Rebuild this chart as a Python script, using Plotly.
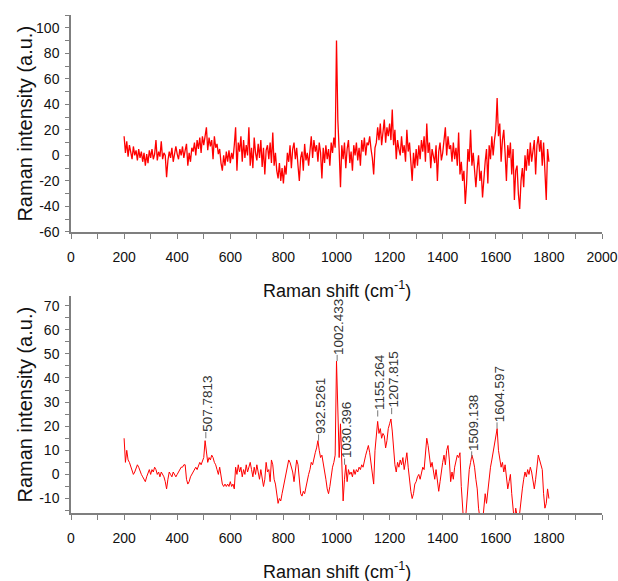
import plotly.graph_objects as go

# Raman shift grid (cm-1), sampled every 5 cm-1
shift = list(range(200, 1801, 5))

# Raw spectrum (top panel)
raw_intensity = (
    [15, 2, 11, -1, 8, 3, -3, 7, 0, 4, -4, 5, -2, 3, -5, 2, -8, 1, -6, 4]
    + [-2, 5, -3, 1, 12, -4, 3, -1, 11, -3, 2, 0, -17, -4, 3, -2, 6, -5, 2, 7]
    + [1, -3, 5, 0, 7, -2, 4, 9, -8, 2, -5, 6, 3, 10, 0, 12, 5, 14, 2, 15]
    + [8, 16, 22, 4, 14, 7, 12, -3, 15, 6, 9, 1, 5, -6, -12, 0, -8, 3, -5, 4]
    + [-6, 2, -3, 8, 22, -12, 10, 3, 15, -5, 12, -2, 8, 0, 22, -8, 6, -10, 14, 2]
    + [-4, 9, -2, 12, -9, 6, -15, 4, 8, -3, 10, -6, 18, -8, 2, -12, -18, -6, -20, -10]
    + [-22, -8, -15, 2, -5, 8, -10, 5, 10, -3, 6, -8, -20, -2, 3, -12, 9, -4, 2, -8]
    + [5, 15, -2, 12, 3, 8, -5, 10, 2, -18, 6, -6, 8, -3, 5, -8, 10, 2, 14, 6]
    + [90, 28, 4, -25, 8, -3, 10, -10, 5, 12, -6, 3, -12, 8, 0, 10, -4, 6, -8, 12]
    + [3, 14, 0, 10, 8, 15, 5, -2, -15, 6, 10, 22, 12, 25, 8, 18, 28, 10, 22, 15]
    + [25, 12, 36, 8, 20, -3, 12, 5, 0, 15, 2, 8, -5, 20, 3, 10, -8, -20, 2, -10]
    + [5, -8, 8, -3, 12, 3, 15, -5, 25, 2, 10, -10, 5, 0, -6, 8, -20, 3, 10, -4]
    + [2, 12, 22, 0, 15, 5, 8, -5, 10, -3, 6, -8, 18, -15, -5, -20, -12, -38, -22, 5]
    + [-5, 20, -8, 2, -15, -25, -10, 0, -20, -12, -33, -15, -5, 5, -22, 8, -3, 15, 0, 12]
    + [20, 45, 15, 25, -5, 12, 20, 2, -20, 8, -2, 10, -15, 5, -35, -12, -8, -30, -42, -20]
    + [-10, -25, 0, -12, 5, -8, 10, -5, 2, 12, -15, 8, 15, 3, 12, -8, 10, -20, -35, 5]
    + [-5]
)

# Smoothed spectrum (bottom panel)
smooth_intensity = (
    [15, 5, 10, 6, 5, 3, 1, 0, 1, 3, 4, 3, 1, 0, -1, -2, -3, -1, 1, 2]
    + [0, 2, 1, 3, 2, 0, 1, -1, 1, 0, -1, -3, -6, -2, 1, 0, -1, 1, 0, -1]
    + [0, 1, 2, 3, 3, 4, 4, -2, -4, -3, -1, 0, 1, 2, 3, 2, 4, 5, 4, 6]
    + [7, 14, 9, 5, 7, 6, 8, 7, 5, 4, 2, 0, 3, -1, -4, -5, -4, -5, -4, -5]
    + [-3, -5, -4, -6, 3, 0, 4, 1, 3, -1, 2, 0, 4, 1, 3, 5, 2, -1, 3, 0]
    + [4, 1, -2, 2, -1, -5, -2, 5, 1, 2, -3, 6, 4, -2, -4, -8, -12, -10, -11, -8]
    + [-5, -3, 0, 3, 6, 5, 3, 1, -3, 2, 6, 4, -3, -8, -9, -7, -8, -5, -3, 0]
    + [2, 5, 4, 7, 9, 11, 14, 10, 7, 8, 5, 2, -2, -6, -8, -5, 0, 3, 5, 8]
    + [47, 20, 7, 21, 6, -11, -2, 4, -3, 2, 0, 1, -1, 2, 0, 2, 1, 3, 2, 4]
    + [3, 6, 8, 10, 12, 9, 5, 2, -4, 10, 18, 22, 17, 19, 15, 17, 16, 11, 14, 19]
    + [21, 23, 18, 10, 4, 1, 5, 3, 6, 4, 7, 2, 5, 9, 3, -3, -7, -10, -8, -4]
    + [-3, -1, 0, -2, 1, 3, 2, 8, 15, 12, 6, 3, 5, 1, -2, 2, -4, -7, -3, 2]
    + [5, 8, 4, 10, 12, 6, -3, 1, -2, 3, 6, 8, 7, 9, -5, -14, -22, -20, -12, -4]
    + [2, 5, 8, 6, 3, -2, -6, -14, -20, -22, -20, -14, -8, -12, -6, -1, 3, 6, 9, 12]
    + [15, 19, 10, 6, 3, 5, 1, 4, -2, -6, -3, 0, -8, -18, -20, -14, -18, -20, -16, -10]
    + [-6, -2, 1, -1, 2, 0, 3, 1, -3, -6, -2, 3, 8, 6, 4, 2, -8, -14, -12, -6]
    + [-10]
)

# Peak labels (bottom panel)
peak_shift = [507.7813, 932.5261, 1002.433, 1030.396, 1155.264, 1207.815, 1509.138, 1604.597]
peak_labels = ["507.7813", "932.5261", "1002.433", "1030.396", "1155.264", "1207.815", "1509.138", "1604.597"]
peak_height = [15, 14, 47, 4, 24, 25, 7, 19]

top_xticks = list(range(0, 2001, 200))
bottom_xticks = list(range(0, 1801, 200))
top_yticks = list(range(-60, 101, 20))
bottom_yticks = list(range(-10, 71, 10))

RED = "#ff0000"
AXIS = "#7f7f7f"
FONT = "Liberation Sans, Arial"
TICKFONT = dict(family=FONT, size=14, color="#111111")
TITLEFONT_H = dict(family=FONT, size=18, color="#111111")
TITLEFONT_V = dict(family=FONT, size=20, color="#111111")
LEADER_LEN = 2.6  # leader length in intensity units

fig = go.Figure()
fig.add_trace(go.Scatter(x=shift, y=raw_intensity, mode="lines",
                         line=dict(color=RED, width=1.3), xaxis="x", yaxis="y",
                         showlegend=False, hoverinfo="skip"))
fig.add_trace(go.Scatter(x=shift, y=smooth_intensity, mode="lines",
                         line=dict(color=RED, width=1), xaxis="x2", yaxis="y2",
                         showlegend=False, hoverinfo="skip"))

# short grey leader lines from each labelled peak up to its label
lead_x, lead_y = [], []
for px, ph in zip(peak_shift, peak_height):
    lead_x += [px, px, None]
    lead_y += [ph, ph + LEADER_LEN, None]
fig.add_trace(go.Scatter(x=lead_x, y=lead_y, mode="lines",
                         line=dict(color="#777777", width=1), xaxis="x2", yaxis="y2",
                         showlegend=False, hoverinfo="skip"))

common_x = dict(showline=True, linecolor=AXIS, linewidth=1.5, ticks="outside", ticklen=5,
                tickcolor=AXIS, tickwidth=1.2, showgrid=False, zeroline=False,
                tickfont=TICKFONT, ticklabelstandoff=6, automargin=False,
                minor=dict(ticks="outside", ticklen=5, tickcolor=AXIS, tickwidth=1.2,
                           tickmode="linear", tick0=0, dtick=100, showgrid=False))
common_y = dict(showline=True, linecolor=AXIS, linewidth=1.5, ticks="outside", ticklen=4,
                tickcolor=AXIS, tickwidth=1.2, showgrid=False, zeroline=False,
                tickfont=TICKFONT, ticklabelstandoff=3, automargin=False)

top_dom = [0.5643, 1.0]
bot_dom = [0.0, 0.4357]

fig.update_layout(
    width=618, height=581, autosize=False,
    margin=dict(l=71, r=16, t=15, b=68),
    paper_bgcolor="white", plot_bgcolor="white",
    xaxis=dict(domain=[0, 1], anchor="y", range=[0, 2000], tickmode="array",
               tickvals=top_xticks, ticktext=[str(v) for v in top_xticks],
               ticklabeloverflow="allow", **common_x),
    yaxis=dict(domain=top_dom, anchor="x", range=[-60, 110], tickmode="array",
               tickvals=top_yticks, ticktext=[str(v) for v in top_yticks],
               minor=dict(ticks="outside", ticklen=4, tickcolor=AXIS, tickwidth=1.2,
                          tickmode="linear", tick0=0, dtick=10, showgrid=False),
               **common_y),
    xaxis2=dict(domain=[0, 1], anchor="y2", range=[0, 2000], tickmode="array",
                tickvals=bottom_xticks, ticktext=[str(v) for v in bottom_xticks], **common_x),
    yaxis2=dict(domain=bot_dom, anchor="x2", range=[-16, 74], tickmode="array",
                tickvals=bottom_yticks, ticktext=[str(v) for v in bottom_yticks],
                minor=dict(ticks="outside", ticklen=4, tickcolor=AXIS, tickwidth=1.2,
                           tickmode="linear", tick0=0, dtick=5, showgrid=False),
                **common_y),
)

annotations = []
xtitle = "Raman shift (cm<sup>-1</sup>)"
ytitle = "Raman intensity (a.u.)"
annotations.append(dict(text=xtitle, xref="paper", yref="paper", x=0.501, y=0.4478,
                        xanchor="center", yanchor="middle", showarrow=False, font=TITLEFONT_H))
annotations.append(dict(text=xtitle, xref="paper", yref="paper", x=0.501, y=-0.1145,
                        xanchor="center", yanchor="middle", showarrow=False, font=TITLEFONT_H))
annotations.append(dict(text=ytitle, xref="paper", yref="paper", x=-0.0866, y=0.782,
                        xanchor="center", yanchor="middle", textangle=-90, showarrow=False,
                        font=TITLEFONT_V))
annotations.append(dict(text=ytitle, xref="paper", yref="paper", x=-0.0866, y=0.2179,
                        xanchor="center", yanchor="middle", textangle=-90, showarrow=False,
                        font=TITLEFONT_V))

for px, lab, ph in zip(peak_shift, peak_labels, peak_height):
    annotations.append(dict(text=lab, xref="x2", yref="y2", x=px, y=ph + LEADER_LEN,
                            textangle=-90, showarrow=False, xanchor="center",
                            yanchor="bottom", xshift=2, yshift=-2,
                            font=dict(family=FONT, size=13.5, color="#333333")))

fig.update_layout(annotations=annotations)

# remove the default 8 px page margin so the figure fills the window exactly
fig.write_html("out.html",
               config={"responsive": False, "displayModeBar": False},
               post_script="document.body.style.margin='0';")
